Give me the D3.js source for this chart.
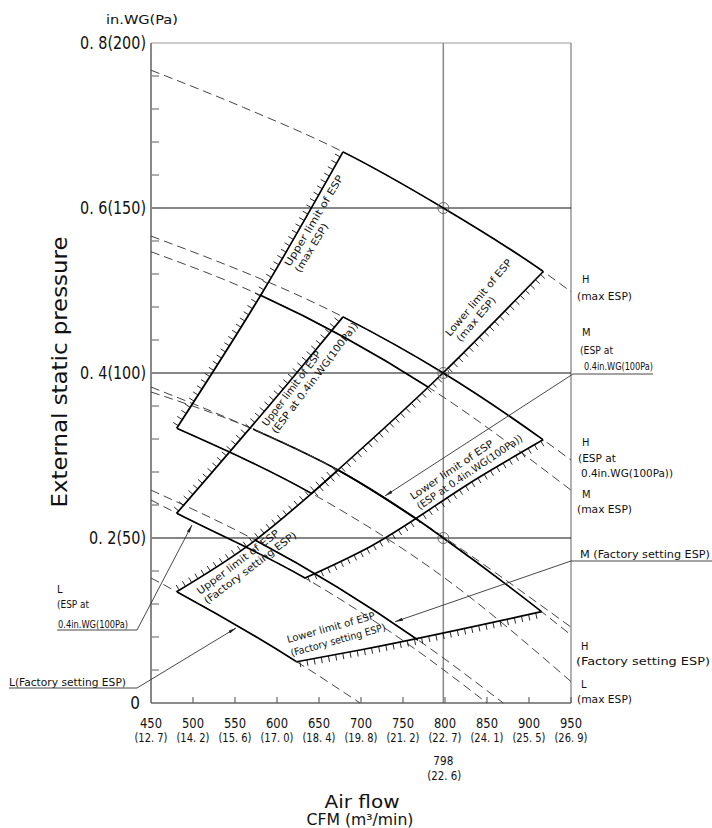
<!DOCTYPE html>
<html>
<head>
<meta charset="utf-8">
<script src="https://cdnjs.cloudflare.com/ajax/libs/d3/7.8.5/d3.min.js"></script>
<style>
  body { margin: 0; background: #fff; }
  svg text { fill: #111; }
</style>
</head>
<body>
<div id="chart"></div>
<script>
// axis values
const cfmTicks = [450, 500, 550, 600, 650, 700, 750, 800, 850, 900, 950];
const m3Ticks = ["12. 7", "14. 2", "15. 6", "17. 0", "18. 4", "19. 8", "21. 2", "22. 7", "24. 1", "25. 5", "26. 9"];
const pressTicks = [0.2, 0.4, 0.6, 0.8, 0];
const pressLabels = ["0. 2(50)", "0. 4(100)", "0. 6(150)", "0. 8(200)", "0"];
const ratedCfm = 798, ratedM3 = "22. 6";
const ratedPress = [0.6, 0.4, 0.2];

// fan curves [CFM, in.WG]
const hMax = [[450, 0.767], [560, 0.722], [678.6, 0.668], [798, 0.6], [917, 0.523], [950, 0.4985]];
const mMax = [[450, 0.547], [579.8, 0.4945], [779.8, 0.383], [950, 0.258]];
const lMax = [[480.6, 0.333], [641.3, 0.254], [797.6, 0.153], [950, 0.026]];
const h04 = [[450, 0.566], [678.6, 0.468], [798, 0.4], [917, 0.319], [950, 0.2945]];
const m04 = [[450, 0.383], [571.4, 0.332], [672.6, 0.2824], [767.9, 0.2218], [950, 0.092]];
const l04 = [[450, 0.246], [480.6, 0.23], [633.3, 0.1515], [766.3, 0.064], [850, 0]];
const hFac = [[450, 0.377], [571.4, 0.332], [672.6, 0.2824], [767.9, 0.2218], [798, 0.2], [915, 0.1107], [950, 0.0824]];
const mFac = [[450, 0.258], [573.8, 0.1976], [767.9, 0.0764], [869.4, 0]];
const lFac = [[450, 0.1515], [480.6, 0.1349], [623.5, 0.05], [698.8, 0]];

// ESP limit lines (system curves)
const upMax = [[480.6, 0.333], [584, 0.5], [678.6, 0.668]];
const loMax = [[641.3, 0.254], [797.6, 0.4], [917, 0.523]];
const up04 = [[480.6, 0.23], [623.4, 0.4], [678.6, 0.468]];
const lo04 = [[633.3, 0.1515], [710.7, 0.1895], [841.7, 0.2743], [916.7, 0.319]];
const upFac = [[480.6, 0.1349], [564, 0.1895], [672.6, 0.2824]];
const loFac = [[623.5, 0.05], [698.8, 0.0642], [915, 0.1107]];

// where each fan curve is drawn solid
const fans = [
  {pts: hMax, solid: [678.6, 917]},
  {pts: mMax, solid: [579.8, 779.8]},
  {pts: lMax, solid: [480.6, 641.3]},
  {pts: h04, solid: [678.6, 917]},
  {pts: m04, solid: [571.4, 767.9]},
  {pts: l04, solid: [480.6, 633.3]},
  {pts: hFac, solid: [672.6, 915]},
  {pts: mFac, solid: [573.8, 767.9]},
  {pts: lFac, solid: [480.6, 623.5]}
];
const limits = [
  {pts: upMax, side: 1}, {pts: loMax, side: -1},
  {pts: up04, side: 1}, {pts: lo04, side: -1},
  {pts: upFac, side: 1}, {pts: loFac, side: -1}
];

const FONT = "'DejaVu Sans Condensed','DejaVu Sans',sans-serif";
const width = 712, height = 828;
const x = d3.scaleLinear().domain([450, 950]).range([151, 571]);
const y = d3.scaleLinear().domain([0, 0.8]).range([703, 43]);

const svg = d3.select("#chart").append("svg")
    .attr("width", width).attr("height", height)
    .style("font-family", FONT);

const defs = svg.append("defs");
defs.append("marker").attr("id", "arr")
    .attr("viewBox", "0 0 10 4").attr("refX", 10).attr("refY", 2)
    .attr("markerWidth", 8).attr("markerHeight", 3.2).attr("orient", "auto")
    .attr("markerUnits", "userSpaceOnUse")
  .append("path").attr("d", "M0,0L10,2L0,4Z").attr("fill", "#222");

function txt(g, str, px, py, o = {}) {
    let t = g.append("text")
        .attr("font-size", o.size || 10)
        .attr("text-anchor", o.anchor || "start")
        .text(str);
    if (o.len) t.attr("textLength", o.len).attr("lengthAdjust", "spacingAndGlyphs");
    let tr = `translate(${px},${py})`;
    if (o.rot) tr += ` rotate(${o.rot})`;
    if (o.dy || o.dx) tr += ` translate(${o.dx || 0},${o.dy || 0})`;
    t.attr("transform", tr);
    return t;
}

// ---- frame, grid, ticks
const frame = svg.append("g");
frame.append("line").attr("x1", x(450)).attr("x2", x(950)).attr("y1", y(0.8)).attr("y2", y(0.8))
    .attr("stroke", "#999").attr("stroke-width", 1);
frame.append("line").attr("x1", x(950)).attr("x2", x(950)).attr("y1", y(0.8)).attr("y2", y(0))
    .attr("stroke", "#888").attr("stroke-width", 1.3);
frame.append("line").attr("x1", x(ratedCfm)).attr("x2", x(ratedCfm)).attr("y1", y(0.8)).attr("y2", y(0))
    .attr("stroke", "#888").attr("stroke-width", 1.5);
frame.selectAll(".grid").data([0.2, 0.4, 0.6]).join("line")
    .attr("x1", x(450)).attr("x2", x(950)).attr("y1", d => y(d)).attr("y2", d => y(d))
    .attr("stroke", "#111").attr("stroke-width", 1.2);
frame.selectAll(".ytick").data(d3.range(1, 20).filter(i => i % 5).map(i => i * 0.04)).join("line")
    .attr("x1", x(450)).attr("x2", x(450) + 8).attr("y1", d => y(d)).attr("y2", d => y(d))
    .attr("stroke", "#777").attr("stroke-width", 1.2);
frame.selectAll(".xtick").data(cfmTicks).join("line")
    .attr("x1", d => x(d)).attr("x2", d => x(d)).attr("y1", y(0)).attr("y2", y(0) - 6)
    .attr("stroke", "#666").attr("stroke-width", 1.2);
frame.append("line").attr("x1", x(450)).attr("x2", x(450)).attr("y1", y(0.8)).attr("y2", y(0))
    .attr("stroke", "#888").attr("stroke-width", 2);
frame.append("line").attr("x1", x(450)).attr("x2", x(950)).attr("y1", y(0)).attr("y2", y(0))
    .attr("stroke", "#666").attr("stroke-width", 1.6);

// ---- fan curves: dashed outside the box, solid inside
const line = d3.line().x(d => x(d[0])).y(d => y(d[1])).curve(d3.curveMonotoneX);
const plot = svg.append("g");
fans.forEach((f, i) => {
    plot.append("path").attr("d", line(f.pts)).attr("fill", "none")
        .attr("stroke", "#444").attr("stroke-width", 1).attr("stroke-dasharray", "9,5");
    defs.append("clipPath").attr("id", "c" + i).append("rect")
        .attr("x", x(f.solid[0])).attr("width", x(f.solid[1]) - x(f.solid[0]))
        .attr("y", 0).attr("height", height);
    plot.append("path").attr("d", line(f.pts)).attr("fill", "none")
        .attr("clip-path", `url(#c${i})`)
        .attr("stroke", "#000").attr("stroke-width", 1.7);
});

// ---- ESP limit lines with hatching
limits.forEach(l => {
    const p = plot.append("path").attr("d", line(l.pts)).attr("fill", "none")
        .attr("stroke", "#000").attr("stroke-width", 1.7);
    const node = p.node(), L = node.getTotalLength();
    for (let s = 3; s < L - 1; s += 7.3) {
        const a = node.getPointAtLength(Math.max(0, s - 0.5)), b = node.getPointAtLength(Math.min(L, s + 0.5));
        const c = node.getPointAtLength(s);
        let dx = b.x - a.x, dy = b.y - a.y; const n = Math.hypot(dx, dy); dx /= n; dy /= n;
        plot.append("line").attr("x1", c.x).attr("y1", c.y)
            .attr("x2", c.x + l.side * dy * 6).attr("y2", c.y - l.side * dx * 6)
            .attr("stroke", "#111").attr("stroke-width", 0.9);
    }
});

// rated point circles
plot.selectAll("circle").data(ratedPress).join("circle")
    .attr("cx", x(ratedCfm)).attr("cy", d => y(d)).attr("r", 5.5)
    .attr("fill", "none").attr("stroke", "#666").attr("stroke-width", 1);

// ---- text on the limit lines
const limitText = [
  {x: 290, y: 267, rot: -59, l1: "Upper limit of ESP", l2: "(max ESP)", w1: 104, w2: 55},
  {x: 450, y: 337, rot: -50, l1: "Lower limit of ESP", l2: "(max ESP)", w1: 97, w2: 55, dx2: 3},
  {x: 267, y: 427, rot: -53, l1: "Upper limit of ESP", l2: "(ESP at 0.4in.WG(100Pa))", w1: 91, w2: 136},
  {x: 413, y: 500, rot: -34, l1: "Lower limit of ESP", l2: "(ESP at 0.4in.WG(100Pa))", w1: 98, w2: 125},
  {x: 200, y: 595, rot: -37, l1: "Upper limit of ESP", l2: "(Factory setting ESP)", w1: 100, w2: 113},
  {x: 288, y: 643, rot: -15.5, l1: "Lower limit of ESP", l2: "(Factory setting ESP)", w1: 91, w2: 98, dy2: 14}
];
const ann = svg.append("g");
limitText.forEach(t => {
    txt(ann, t.l1, t.x, t.y, {rot: t.rot, len: t.w1, size: 10});
    txt(ann, t.l2, t.x, t.y, {rot: t.rot, len: t.w2, size: 10, dx: t.dx2 || 0, dy: t.dy2 || 12});
});

// ---- right-hand curve names
const rightText = [
  ["H", 582, 283, 0], ["(max ESP)", 577, 300, 55],
  ["M", 582, 336, 0], ["(ESP at", 580, 354, 33], ["0.4in.WG(100Pa)", 584, 370, 69],
  ["H", 582, 446, 0], ["(ESP at", 578, 462, 38], ["0.4in.WG(100Pa))", 581, 477, 92],
  ["M", 582, 498, 0], ["(max ESP)", 577, 513, 55],
  ["M (Factory setting ESP)", 580, 558, 130],
  ["H", 581, 650, 0], ["(Factory setting ESP)", 576, 665, 134],
  ["L", 581, 688, 0], ["(max ESP)", 577, 703, 55]
];
rightText.forEach(r => txt(ann, r[0], r[1], r[2], {size: 11, len: r[3] || null}));

const leftText = [
  ["L", 57, 593, 0], ["(ESP at", 57, 608, 32], ["0.4in.WG(100Pa)", 58, 628, 70],
  ["L(Factory setting ESP)", 9, 686, 117]
];
leftText.forEach(r => txt(ann, r[0], r[1], r[2], {size: 11, len: r[3] || null}));

// underlines and leader arrows: [start px, start py, underline end px, target CFM, target in.WG]
const leaders = [
  [573, 374, 653, 728.6, 0.251],
  [571, 561, 712, 740.5, 0.0985],
  [137, 630, 57, 498.8, 0.2158],
  [137, 688, 9, 551.2, 0.0909]
];
leaders.forEach(d => {
    ann.append("line").attr("x1", d[0]).attr("x2", d[2]).attr("y1", d[1]).attr("y2", d[1])
        .attr("stroke", "#333").attr("stroke-width", 0.9);
    ann.append("line").attr("x1", d[0]).attr("y1", d[1]).attr("x2", x(d[3])).attr("y2", y(d[4]))
        .attr("stroke", "#333").attr("stroke-width", 0.9).attr("marker-end", "url(#arr)");
});

// ---- axis labels
const axes = svg.append("g");
pressTicks.forEach((p, i) => {
    txt(axes, pressLabels[i], p === 0 ? 140 : 146, y(p) + 6, {size: 17, anchor: "end", len: p === 0 ? null : (p === 0.2 ? 57 : 66)});
});
txt(axes, "in.WG(Pa)", 106, 24, {size: 13, len: 72});
cfmTicks.forEach((c, i) => {
    txt(axes, String(c), x(c), 727.5, {size: 13.5, anchor: "middle", len: 22});
    txt(axes, `(${m3Ticks[i]})`, x(c), 742, {size: 12.5, anchor: "middle", len: 33});
});
txt(axes, String(ratedCfm), x(ratedCfm), 765, {size: 13, anchor: "middle", len: 20});
txt(axes, `(${ratedM3})`, x(ratedCfm) + 1, 780, {size: 13, anchor: "middle", len: 34});
txt(axes, "Air flow", 362, 808, {size: 17, anchor: "middle", len: 75});
txt(axes, "CFM (m³/min)", 360, 825, {size: 15, anchor: "middle", len: 107});
txt(axes, "External static pressure", 67, 372, {size: 21, anchor: "middle", rot: -90, len: 271});
</script>
</body>
</html>
